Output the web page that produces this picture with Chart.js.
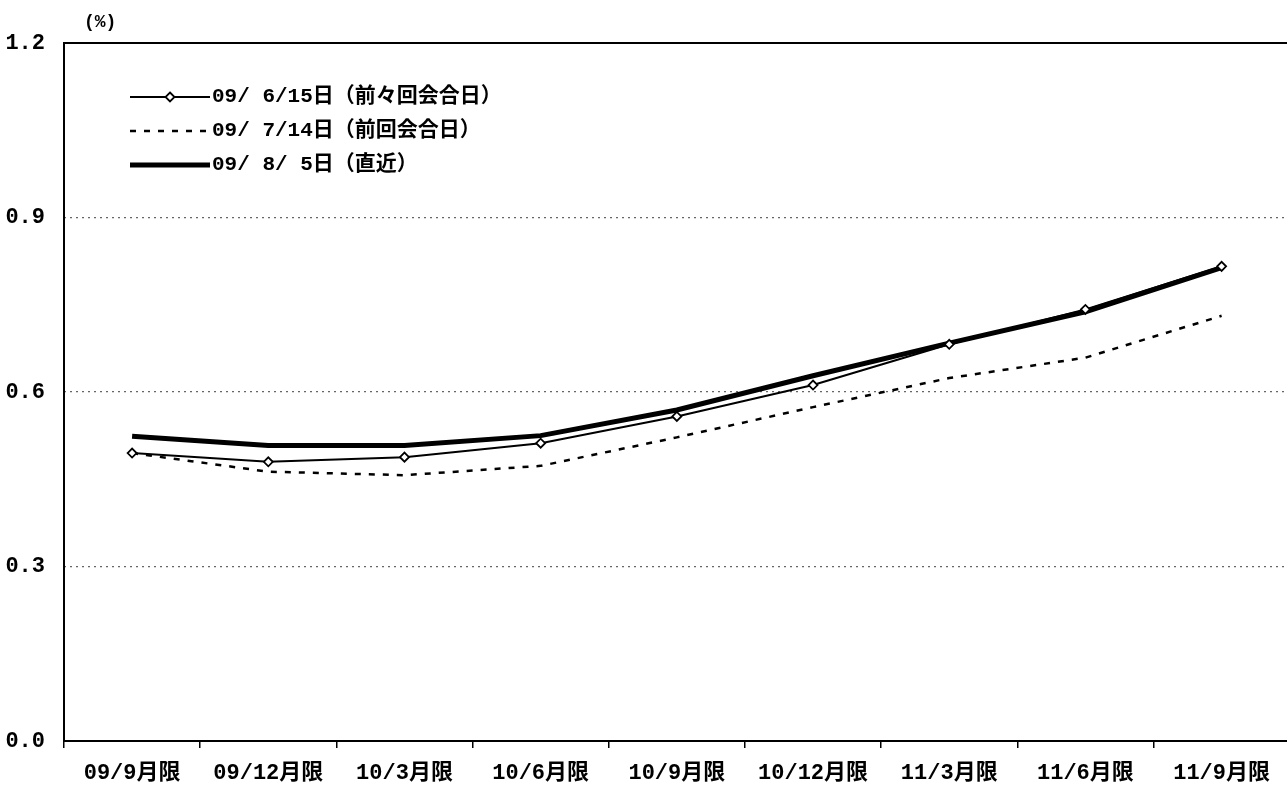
<!DOCTYPE html>
<html>
<head>
<meta charset="utf-8">
<script src="https://cdn.jsdelivr.net/npm/chart.js@4.4.1/dist/chart.umd.min.js"></script>
<style>
  html, body { margin: 0; padding: 0; background: #fff; overflow: hidden; }
  #wrap { width: 1296px; height: 786px; }
</style>
</head>
<body>
<div id="wrap"><canvas id="rateChart" width="1296" height="786"></canvas></div>
<script>
  // 限月ごとの金利（%）
  var months = ['09/9月限', '09/12月限', '10/3月限', '10/6月限', '10/9月限', '10/12月限', '11/3月限', '11/6月限', '11/9月限'];
  var seriesNames = ['09/ 6/15日（前々回会合日）', '09/ 7/14日（前回会合日）', '09/ 8/ 5日（直近）'];
  var rate0615 = [0.495, 0.480, 0.488, 0.512, 0.558, 0.612, 0.682, 0.742, 0.816];
  var rate0714 = [0.495, 0.463, 0.457, 0.473, 0.522, 0.574, 0.624, 0.659, 0.731];
  var rate0805 = [0.524, 0.508, 0.508, 0.525, 0.569, 0.628, 0.684, 0.738, 0.814];
  var yTicks = [0, 0.3, 0.6, 0.9, 1.2];

  var FONT = '"Liberation Mono", "Noto Sans CJK JP", monospace';

  // 枠線・単位・凡例
  var framePlugin = {
    id: 'frame',
    beforeDatasetsDraw: function(chart) {
      var ctx = chart.ctx, a = chart.chartArea;
      ctx.save();
      ctx.strokeStyle = '#000';
      ctx.lineWidth = 2;
      ctx.strokeRect(a.left, a.top, a.right - a.left, a.bottom - a.top);
      ctx.restore();
    },
    afterDraw: function(chart) {
      var ctx = chart.ctx, a = chart.chartArea;
      ctx.save();
      ctx.fillStyle = '#000';
      ctx.font = 'bold 18px ' + FONT;
      ctx.textBaseline = 'middle';
      ctx.fillText('(%)', a.left + 20, 22);

      ctx.font = 'bold 21px ' + FONT;
      chart.data.datasets.forEach(function(ds, i) {
        var y = a.top + 54 + i * 34;
        var x0 = a.left + 66, x1 = a.left + 146;
        ctx.strokeStyle = '#000';
        ctx.lineWidth = ds.borderWidth;
        ctx.setLineDash(ds.borderDash || []);
        ctx.beginPath();
        ctx.moveTo(x0, y);
        ctx.lineTo(x1, y);
        ctx.stroke();
        ctx.setLineDash([]);
        if (ds.pointRadius > 0) {
          var cx = (x0 + x1) / 2, r = ds.pointRadius;
          ctx.beginPath();
          ctx.moveTo(cx, y - r);
          ctx.lineTo(cx + r, y);
          ctx.lineTo(cx, y + r);
          ctx.lineTo(cx - r, y);
          ctx.closePath();
          ctx.fillStyle = '#fff';
          ctx.fill();
          ctx.lineWidth = 1.8;
          ctx.stroke();
          ctx.fillStyle = '#000';
        }
        ctx.fillText(ds.label, x1 + 2, y);
      });
      ctx.restore();
    }
  };

  var ctx = document.getElementById('rateChart').getContext('2d');
  var myChart = new Chart(ctx, {
    type: 'line',
    data: {
      labels: months,
      datasets: [{
        label: seriesNames[0],
        data: rate0615,
        borderColor: '#000',
        borderWidth: 2,
        pointStyle: 'rectRot',
        pointRadius: 4.5,
        pointBorderWidth: 1.8,
        pointBackgroundColor: '#fff',
        pointBorderColor: '#000',
        tension: 0
      }, {
        label: seriesNames[1],
        data: rate0714,
        borderColor: '#000',
        borderWidth: 2.5,
        borderDash: [6, 8],
        pointRadius: 0,
        tension: 0
      }, {
        label: seriesNames[2],
        data: rate0805,
        borderColor: '#000',
        borderWidth: 5,
        pointRadius: 0,
        tension: 0
      }]
    },
    options: {
      responsive: false,
      animation: false,
      layout: { padding: { top: 43, left: 0, right: 2, bottom: 0 } },
      plugins: {
        legend: { display: false },
        tooltip: { enabled: false }
      },
      scales: {
        x: {
          offset: true,
          grid: {
            offset: true,
            drawOnChartArea: false,
            drawTicks: true,
            tickLength: 7,
            color: '#000',
            lineWidth: 1.5
          },
          border: { display: false },
          ticks: {
            color: '#000',
            font: { family: FONT, size: 22, weight: 'bold' },
            padding: 12,
            maxRotation: 0,
            autoSkip: false
          },
          afterFit: function(scale) { scale.height = 45; }
        },
        y: {
          min: 0,
          max: 1.2,
          afterBuildTicks: function(scale) {
            scale.ticks = yTicks.map(function(v) { return { value: v }; });
          },
          grid: {
            drawTicks: false,
            color: function(c) {
              return (c.tick.value === 0 || c.tick.value === 1.2) ? 'rgba(0,0,0,0)' : '#666';
            },
            lineWidth: 1.2
          },
          border: { display: false, dash: [2, 4] },
          ticks: {
            color: '#000',
            font: { family: FONT, size: 22, weight: 'bold' },
            padding: 19,
            callback: function(v) { return Number(v).toFixed(1); }
          },
          afterFit: function(scale) { scale.width = 64; }
        }
      }
    },
    plugins: [framePlugin]
  });
</script>
</body>
</html>
